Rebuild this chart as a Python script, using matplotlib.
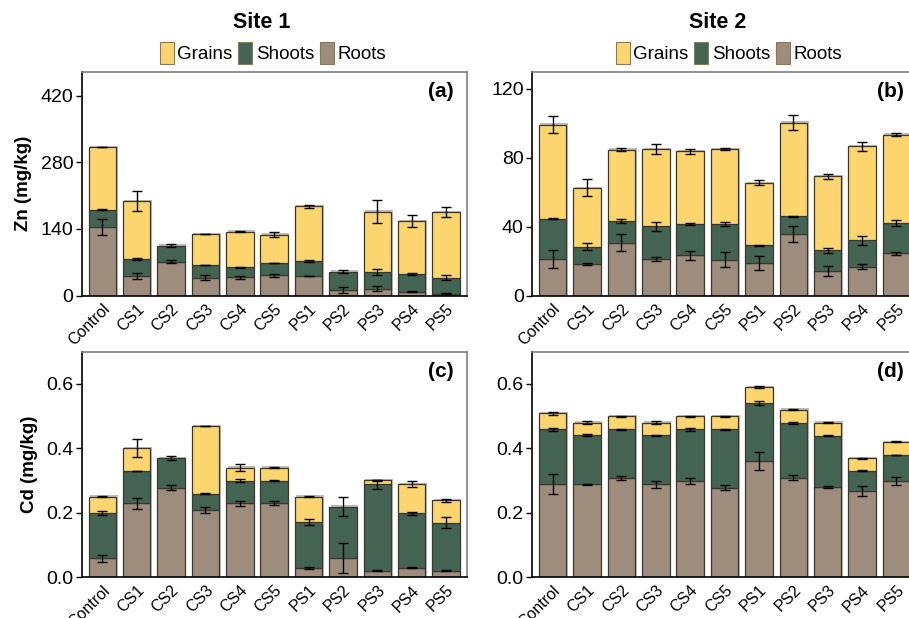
import numpy as np
import matplotlib
matplotlib.use("Agg")
import matplotlib.pyplot as plt
from matplotlib.patches import Patch
from matplotlib.transforms import ScaledTranslation

plt.rcParams['font.family'] = ['Liberation Sans', 'DejaVu Sans']

treatments = ["Control", "CS1", "CS2", "CS3", "CS4", "CS5",
              "PS1", "PS2", "PS3", "PS4", "PS5"]
parts = ["Grains", "Shoots", "Roots"]

# Zn, site 1 (mg/kg)
zn1_roots = [143.5, 42.0, 71.4, 37.8, 38.5, 42.7, 42.0, 12.6, 14.7, 8.4, 4.2]
zn1_shoots = [37.1, 34.3, 33.6, 26.6, 21.0, 25.9, 31.5, 37.8, 35.0, 37.1, 33.6]
zn1_grains = [130.9, 122.5, 0.0, 65.1, 74.9, 59.5, 114.1, 0.0, 126.7, 110.5, 137.2]
zn1_roots_se = [16.5, 6.6, 3.5, 4.9, 3.5, 3.5, 0.3, 6.3, 4.9, 1.0, 1.0]
zn1_shoots_se = [1.0, 2.0, 2.5, 1.0, 1.0, 1.0, 2.0, 2.5, 7.0, 2.5, 5.0]
zn1_grains_se = [0.3, 21.7, 0.0, 0.3, 0.5, 5.0, 3.5, 0.0, 24.0, 12.6, 10.5]

# Zn, site 2 (mg/kg)
zn2_roots = [21.4, 18.2, 30.7, 21.4, 23.4, 20.9, 19.1, 35.9, 14.5, 16.8, 24.5]
zn2_shoots = [23.4, 10.2, 12.6, 18.8, 18.3, 20.8, 10.1, 10.1, 11.8, 15.3, 17.6]
zn2_grains = [54.5, 34.2, 41.5, 45.0, 42.0, 43.5, 36.3, 54.5, 42.9, 54.5, 51.4]
zn2_roots_se = [5.4, 0.6, 5.0, 1.2, 2.6, 4.3, 4.0, 4.6, 2.8, 1.5, 0.8]
zn2_shoots_se = [0.3, 1.9, 1.0, 2.6, 0.7, 1.0, 0.3, 0.3, 1.5, 2.5, 1.9]
zn2_grains_se = [4.9, 4.9, 0.7, 3.0, 1.3, 0.5, 1.5, 4.3, 1.5, 2.5, 1.0]

# Cd, site 1 (mg/kg)
cd1_roots = [0.058, 0.229, 0.278, 0.208, 0.229, 0.229, 0.029, 0.059, 0.020, 0.029, 0.020]
cd1_shoots = [0.140, 0.100, 0.092, 0.051, 0.070, 0.070, 0.141, 0.160, 0.268, 0.169, 0.149]
cd1_grains = [0.052, 0.071, 0.0, 0.210, 0.041, 0.041, 0.080, 0.0, 0.012, 0.091, 0.069]
cd1_roots_se = [0.010, 0.018, 0.007, 0.010, 0.008, 0.006, 0.003, 0.048, 0.001, 0.001, 0.001]
cd1_shoots_se = [0.006, 0.001, 0.005, 0.001, 0.004, 0.001, 0.009, 0.031, 0.014, 0.004, 0.016]
cd1_grains_se = [0.001, 0.028, 0.0, 0.001, 0.011, 0.001, 0.001, 0.0, 0.002, 0.008, 0.005]

# Cd, site 2 (mg/kg)
cd2_roots = [0.288, 0.288, 0.308, 0.288, 0.298, 0.278, 0.359, 0.308, 0.279, 0.268, 0.299]
cd2_shoots = [0.171, 0.152, 0.151, 0.152, 0.161, 0.181, 0.181, 0.171, 0.160, 0.062, 0.080]
cd2_grains = [0.050, 0.040, 0.040, 0.040, 0.040, 0.040, 0.050, 0.041, 0.041, 0.039, 0.041]
cd2_roots_se = [0.031, 0.001, 0.007, 0.011, 0.010, 0.007, 0.028, 0.008, 0.004, 0.015, 0.013]
cd2_shoots_se = [0.004, 0.003, 0.001, 0.001, 0.004, 0.001, 0.006, 0.004, 0.001, 0.001, 0.001]
cd2_grains_se = [0.005, 0.005, 0.001, 0.005, 0.001, 0.001, 0.003, 0.001, 0.001, 0.001, 0.001]

colors = {"Grains": "#FDD56E", "Shoots": "#436452", "Roots": "#9E8C7C"}
edge = "#3a372c"

fig = plt.figure(figsize=(9.09, 6.18), dpi=100)

W, H = 909, 618


def axes_px(left, top, right, bottom):
    return fig.add_axes([left / W, 1 - bottom / H, (right - left) / W, (bottom - top) / H])


panels = [
    dict(pos=(81.7, 71.7, 466.7, 295.7), ylim=470, ticks=[0, 140, 280, 420], fmt="{:.0f}",
         data=(zn1_roots, zn1_shoots, zn1_grains), se=(zn1_roots_se, zn1_shoots_se, zn1_grains_se),
         tag="(a)", ylabel="Zn (mg/kg)"),
    dict(pos=(532.0, 71.7, 917.0, 295.7), ylim=130, ticks=[0, 40, 80, 120], fmt="{:.0f}",
         data=(zn2_roots, zn2_shoots, zn2_grains), se=(zn2_roots_se, zn2_shoots_se, zn2_grains_se),
         tag="(b)", ylabel=None),
    dict(pos=(81.7, 351.7, 466.7, 577.0), ylim=0.7, ticks=[0.0, 0.2, 0.4, 0.6], fmt="{:.1f}",
         data=(cd1_roots, cd1_shoots, cd1_grains), se=(cd1_roots_se, cd1_shoots_se, cd1_grains_se),
         tag="(c)", ylabel="Cd (mg/kg)"),
    dict(pos=(532.0, 351.7, 917.0, 577.0), ylim=0.7, ticks=[0.0, 0.2, 0.4, 0.6], fmt="{:.1f}",
         data=(cd2_roots, cd2_shoots, cd2_grains), se=(cd2_roots_se, cd2_shoots_se, cd2_grains_se),
         tag="(d)", ylabel=None),
]

x = np.arange(len(treatments))
bw = 0.8
shadow = ScaledTranslation(1.5 / 100, 1.2 / 100, fig.dpi_scale_trans)

for p in panels:
    ax = axes_px(*p["pos"])
    roots, shoots, grains = [np.asarray(v) for v in p["data"]]
    se_r, se_s, se_g = [np.asarray(v) for v in p["se"]]
    total = roots + shoots + grains

    # soft grey drop shadow behind each stack
    sh = ax.bar(x, total, bw, color="#bdbdbd", edgecolor="none", zorder=1)
    for r in sh:
        r.set_transform(ax.transData + shadow)

    bottom = np.zeros(len(x))
    for name, vals, se in (("Roots", roots, se_r), ("Shoots", shoots, se_s), ("Grains", grains, se_g)):
        mask = vals > 0
        ax.bar(x[mask], vals[mask], bw, bottom=bottom[mask], color=colors[name],
               edgecolor=edge, linewidth=0.9, zorder=2)
        top = bottom + vals
        ax.errorbar(x[mask], top[mask], yerr=se[mask], fmt="none", ecolor="black",
                    elinewidth=1.0, capsize=3.5, capthick=1.0, zorder=4)
        bottom = top

    ax.set_xlim(-0.6, 10.6)
    ax.set_ylim(0, p["ylim"])
    ax.set_yticks(p["ticks"])
    ax.set_yticklabels([p["fmt"].format(t) for t in p["ticks"]], fontsize=14)
    ax.set_xticks(x)
    ax.set_xticklabels(treatments, rotation=45, ha="right", rotation_mode="anchor", fontsize=11.5)
    ax.tick_params(axis="x", length=0, pad=4)
    ax.tick_params(axis="y", length=4, width=1, pad=2)
    for s in ("left", "bottom"):
        ax.spines[s].set_color("black")
        ax.spines[s].set_linewidth(1.2)
    for s in ("top", "right"):
        ax.spines[s].set_color("#7f7f7f")
        ax.spines[s].set_linewidth(1.2)
    ax.text(0.965, 0.955, p["tag"], transform=ax.transAxes, ha="right", va="top",
            fontsize=15, fontweight="bold")
    if p["ylabel"]:
        ax.set_ylabel(p["ylabel"], fontsize=13.5, fontweight="bold", labelpad=6)

title_font = ['Liberation Sans Narrow', 'Liberation Sans', 'DejaVu Sans']
handles = [Patch(facecolor=colors[n], edgecolor="#8a7a50", linewidth=0.8, label=n) for n in parts]
for cx, title in ((262, "Site 1"), (718, "Site 2")):
    fig.text(cx / W, 1 - 22 / H, title, ha="center", va="center", fontsize=15.5,
             fontweight="bold", family=title_font)
    fig.legend(handles=handles, loc="center", bbox_to_anchor=(cx / W + 0.012, 1 - 53 / H), ncol=3,
               frameon=False, handlelength=0.75, handleheight=1.4, handletextpad=0.2,
               columnspacing=0.3, prop={"family": title_font, "size": 13.5})

fig.savefig("out.png", dpi=100)
